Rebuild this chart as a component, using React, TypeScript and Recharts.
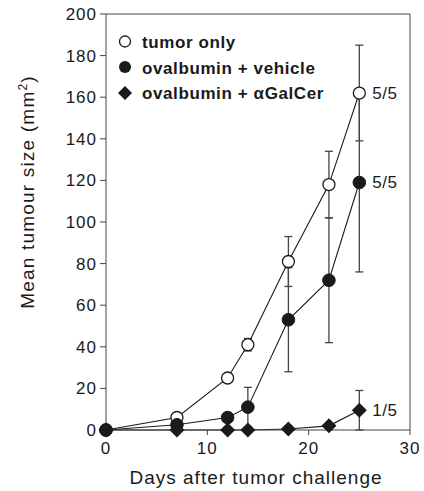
import React from "react";
import { LineChart, Line, XAxis, YAxis, ErrorBar, ReferenceLine, LabelList, Label } from "recharts";

const days = [0, 7, 12, 14, 18, 22, 25];
const tumorOnly = [0, 6, 25, 41, 81, 118, 162];
const tumorOnlyErr = [0, 1, 2, 3, 12, 16, 23];
const vehicle = [0, 2.5, 6, 11, 53, 72, 119];
const vehicleErr = [0, 0, 1, 9.5, 25, 30, 43];
const galcer = [0, 0, 0, 0, 0.5, 2, 9.5];
const galcerErr = [0, 0, 0, 0, 0, 0.5, 9.5];

const seriesNames = ["tumor only", "ovalbumin + vehicle", "ovalbumin + \u03b1GalCer"];
const endLabels = ["5/5", "5/5", "1/5"];
const xTicks = [0, 10, 20, 30];
const yTicks = [0, 20, 40, 60, 80, 100, 120, 140, 160, 180, 200];

const data = days.map((d, i) => ({
  day: d,
  tumorOnly: tumorOnly[i],
  tumorOnlyErr: tumorOnlyErr[i],
  vehicle: vehicle[i],
  vehicleErr: vehicleErr[i],
  galcer: galcer[i],
  galcerErr: galcerErr[i],
}));

const FONT = "'Liberation Sans', Arial, sans-serif";
const INK = "#1a1a1a";
const AXIS = "#444";

const openDot = (p: any) => (
  <circle key={`o${p.index}`} cx={p.cx} cy={p.cy} r={6} fill="#fff" stroke={INK} strokeWidth={1.3} />
);
const filledDot = (p: any) => (
  <circle key={`f${p.index}`} cx={p.cx} cy={p.cy} r={6.3} fill={INK} stroke={INK} strokeWidth={1} />
);
const diamondDot = (p: any) => {
  const s = 7.5;
  return (
    <path
      key={`d${p.index}`}
      d={`M${p.cx},${p.cy - s}L${p.cx + s},${p.cy}L${p.cx},${p.cy + s}L${p.cx - s},${p.cy}Z`}
      fill={INK}
    />
  );
};

const endLabel = (text: string) => (p: any) => {
  if (p.index !== days.length - 1) return null;
  return (
    <text x={p.x + 13} y={p.y} dy={6} fontSize={17} letterSpacing={0.5} fill={INK} fontFamily={FONT}>
      {text}
    </text>
  );
};

export default function App() {
  return (
    <div style={{ position: "absolute", left: 0, top: 0, width: 424, height: 491, background: "#fff" }}>
      <LineChart
        width={424}
        height={491}
        data={data}
        margin={{ top: 14, right: 14, left: 0, bottom: 0 }}
        style={{ fontFamily: FONT }}
      >
        <XAxis
          dataKey="day"
          type="number"
          domain={[0, 30]}
          ticks={xTicks}
          height={61}
          tickSize={5}
          tickMargin={7}
          stroke={AXIS}
          tick={{ fontSize: 17, fill: INK, letterSpacing: 1 }}
          tickLine={{ stroke: AXIS }}
        >
          <Label
            content={() => (
              <text x={256} y={484} textAnchor="middle" fontSize={19} letterSpacing={1} fill={INK} fontFamily={FONT}>
                Days after tumor challenge
              </text>
            )}
          />
        </XAxis>
        <YAxis
          type="number"
          domain={[0, 200]}
          ticks={yTicks}
          interval={0}
          width={106}
          tickSize={6}
          tickMargin={3}
          stroke={AXIS}
          tick={{ fontSize: 17, fill: INK, letterSpacing: 1 }}
          tickLine={{ stroke: AXIS }}
        >
          <Label
            content={() => (
              <text
                x={34}
                y={192}
                transform="rotate(-90 34 192)"
                textAnchor="middle"
                fontSize={19}
                letterSpacing={1.2}
                fill={INK}
                fontFamily={FONT}
              >
                Mean tumour size (mm
                <tspan dy={-7} fontSize={12}>2</tspan>
                <tspan dy={7}>)</tspan>
              </text>
            )}
          />
        </YAxis>
        <ReferenceLine y={200} stroke={AXIS} strokeWidth={1} />
        <ReferenceLine x={30} stroke={AXIS} strokeWidth={1} />
        <Line
          dataKey="tumorOnly"
          stroke={INK}
          strokeWidth={1.1}
          dot={openDot}
          activeDot={false}
          isAnimationActive={false}
        >
          <ErrorBar dataKey="tumorOnlyErr" direction="y" width={4} stroke={AXIS} strokeWidth={1.3} />
          <LabelList dataKey="tumorOnly" content={endLabel(endLabels[0])} />
        </Line>
        <Line
          dataKey="vehicle"
          stroke={INK}
          strokeWidth={1.1}
          dot={filledDot}
          activeDot={false}
          isAnimationActive={false}
        >
          <ErrorBar dataKey="vehicleErr" direction="y" width={4} stroke={AXIS} strokeWidth={1.3} />
          <LabelList dataKey="vehicle" content={endLabel(endLabels[1])} />
        </Line>
        <Line
          dataKey="galcer"
          stroke={INK}
          strokeWidth={1.1}
          dot={diamondDot}
          activeDot={false}
          isAnimationActive={false}
        >
          <ErrorBar dataKey="galcerErr" direction="y" width={4} stroke={AXIS} strokeWidth={1.3} />
          <LabelList dataKey="galcer" content={endLabel(endLabels[2])} />
        </Line>
      </LineChart>
      <svg width={424} height={491} style={{ position: "absolute", left: 0, top: 0, pointerEvents: "none" }}>
        <circle cx={125} cy={41.5} r={5.5} fill="#fff" stroke={INK} strokeWidth={1.3} />
        <circle cx={125} cy={67} r={6} fill={INK} />
        <path d="M125,86L132,93L125,100L118,93Z" fill={INK} />
        {seriesNames.map((name, i) => (
          <text
            key={name}
            x={142}
            y={48 + i * 25.7}
            fontSize={17}
            fontWeight="bold"
            letterSpacing={0.6}
            fill={INK}
            fontFamily={FONT}
          >
            {name}
          </text>
        ))}
      </svg>
    </div>
  );
}
